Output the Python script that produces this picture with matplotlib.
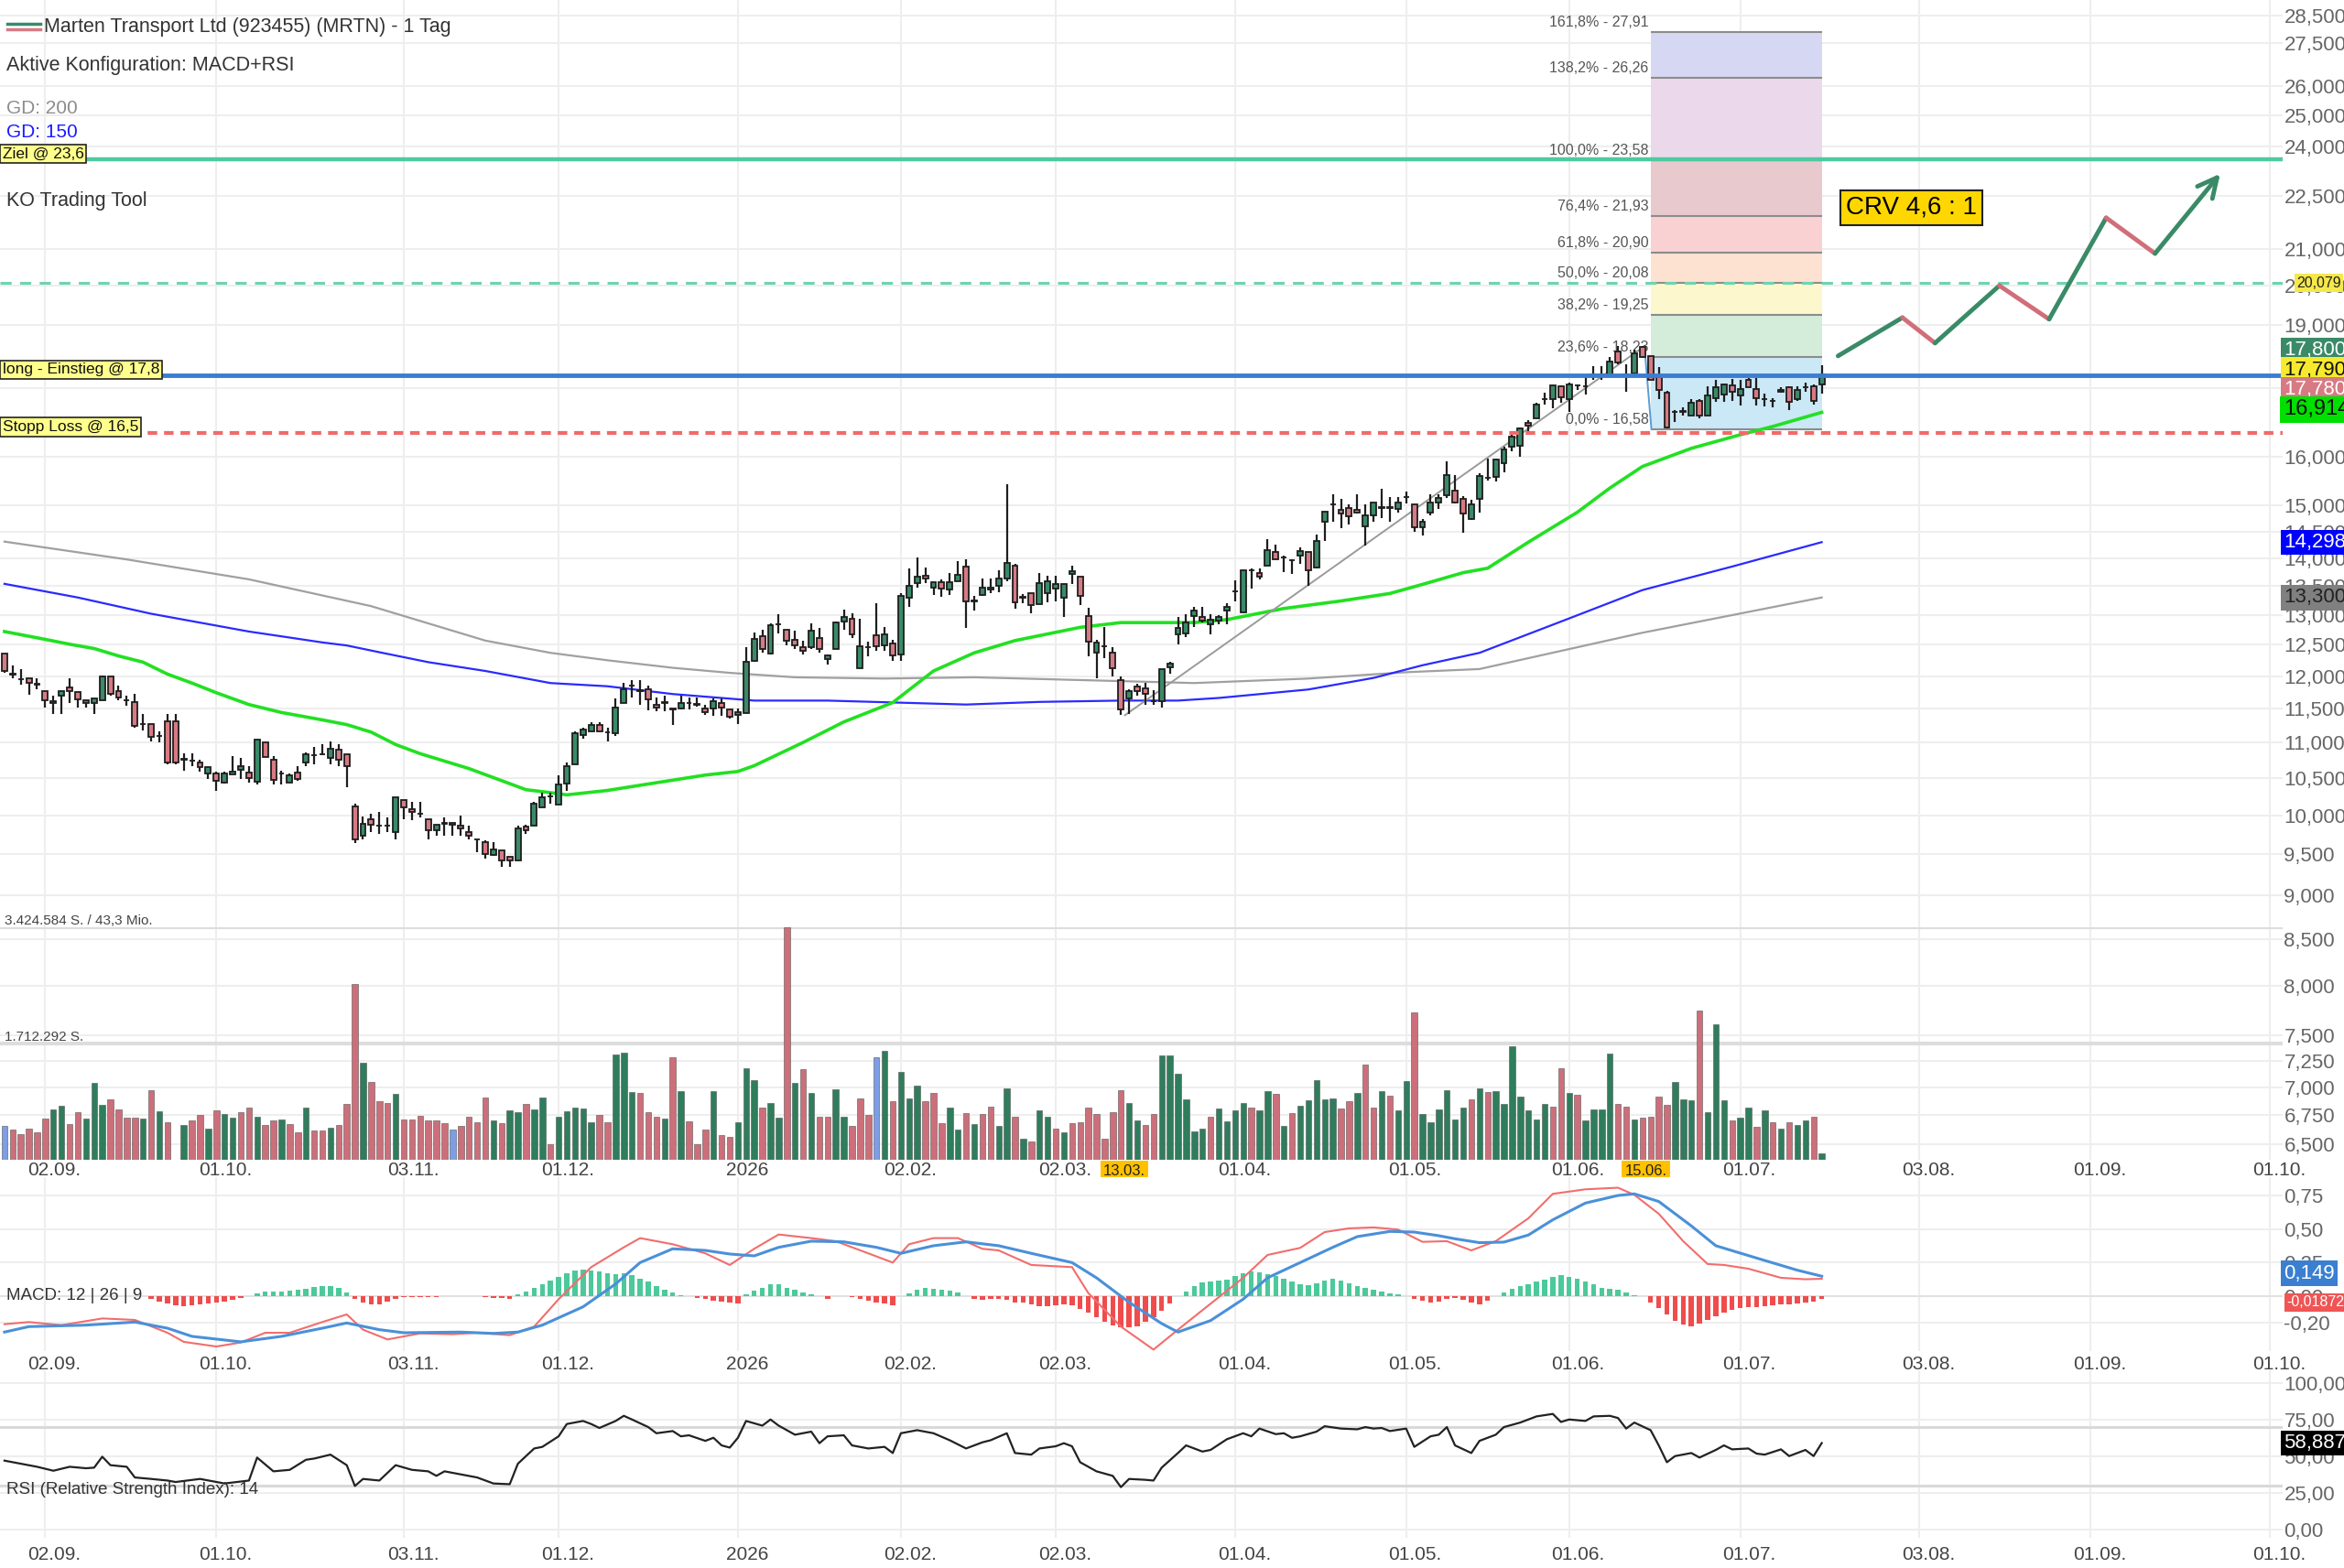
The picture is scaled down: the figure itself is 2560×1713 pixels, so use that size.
import matplotlib
matplotlib.use("Agg")
import matplotlib.pyplot as plt
import numpy as np
from matplotlib.lines import Line2D
from matplotlib.ticker import FixedLocator, FuncFormatter, NullLocator

plt.rcParams['font.family'] = ['Liberation Sans', 'DejaVu Sans']

W, H = 2560, 1713

#%% price data (one candle per trading day, index 0 = 25.08.2025)
opens = [12.36, 12.04, 11.95, 11.96, 11.87, 11.77, 11.58, 11.70, 11.82, 11.75,
         11.58, 11.59, 11.62, 11.99, 11.77, 11.62, 11.60, 11.27, 11.27, 11.09,
         11.31, 11.31, 10.76, 10.74, 10.72, 10.56, 10.56, 10.43, 10.55, 10.61,
         10.57, 10.45, 11.00, 10.76, 10.56, 10.43, 10.57, 10.72, 10.82, 10.83,
         10.78, 10.89, 10.83, 10.12, 9.74, 9.95, 9.86, 9.86, 9.78, 10.20,
         10.08, 10.02, 9.95, 9.80, 9.89, 9.90, 9.87, 9.78, 9.69, 9.65,
         9.49, 9.55, 9.47, 9.42, 9.85, 9.86, 10.10, 10.25, 10.14, 10.42,
         10.69, 11.11, 11.16, 11.25, 11.15, 11.13, 11.59, 11.85, 11.77, 11.79,
         11.56, 11.59, 11.49, 11.50, 11.58, 11.56, 11.50, 11.50, 11.58, 11.48,
         11.41, 11.43, 12.24, 12.65, 12.36, 12.84, 12.75, 12.58, 12.46, 12.46,
         12.62, 12.27, 12.43, 12.89, 12.94, 12.13, 12.46, 12.66, 12.49, 12.52,
         12.34, 13.29, 13.56, 13.68, 13.48, 13.57, 13.44, 13.58, 13.85, 13.24,
         13.35, 13.44, 13.50, 13.63, 13.87, 13.30, 13.38, 13.19, 13.38, 13.46,
         13.29, 13.71, 13.66, 12.98, 12.38, 12.47, 12.38, 11.94, 11.65, 11.83,
         11.81, 11.61, 11.61, 12.14, 12.67, 12.69, 12.98, 12.96, 12.84, 12.90,
         13.08, 13.41, 13.05, 13.78, 13.73, 13.87, 14.11, 14.02, 13.96, 14.05,
         14.11, 13.84, 14.69, 15.03, 14.92, 14.96, 14.92, 14.60, 14.81, 14.96,
         14.96, 14.93, 15.17, 15.02, 14.58, 14.87, 15.07, 15.20, 15.30, 15.14,
         14.74, 15.14, 15.55, 15.58, 15.86, 16.20, 16.22, 16.71, 16.82, 17.25,
         17.25, 17.53, 17.24, 17.55, 17.53, 17.80, 17.80, 17.80, 18.35, 17.80,
         17.84, 18.46, 18.25, 17.76, 17.40, 16.96, 16.97, 16.87, 17.20, 16.87,
         17.27, 17.36, 17.55, 17.34, 17.69, 17.48, 17.25, 17.20, 17.41, 17.51,
         17.25, 17.51, 17.53, 17.58]
highs = [12.36, 12.17, 12.11, 11.96, 11.96, 11.77, 11.69, 11.77, 11.96, 11.75,
         11.63, 11.65, 12.01, 11.99, 11.85, 11.70, 11.72, 11.42, 11.27, 11.16,
         11.42, 11.42, 10.84, 10.84, 10.76, 10.65, 10.59, 10.59, 10.81, 10.78,
         10.66, 11.04, 11.00, 10.81, 10.60, 10.56, 10.66, 10.86, 10.93, 10.97,
         11.01, 10.97, 10.83, 10.15, 9.98, 10.02, 10.04, 9.97, 10.24, 10.20,
         10.18, 10.18, 9.95, 9.88, 9.97, 9.90, 10.00, 9.87, 9.69, 9.68,
         9.65, 9.55, 9.47, 9.86, 9.88, 10.18, 10.30, 10.30, 10.54, 10.72,
         11.16, 11.22, 11.29, 11.29, 11.22, 11.65, 11.89, 11.94, 11.93, 11.85,
         11.67, 11.70, 11.49, 11.69, 11.67, 11.67, 11.55, 11.66, 11.66, 11.48,
         11.50, 12.46, 12.70, 12.75, 12.86, 13.01, 12.75, 12.73, 12.57, 12.86,
         12.78, 12.35, 12.89, 13.09, 13.03, 12.94, 12.55, 13.20, 12.79, 12.58,
         13.38, 13.81, 14.01, 13.84, 13.57, 13.62, 13.73, 13.95, 13.98, 13.32,
         13.63, 13.63, 13.78, 15.43, 13.90, 13.36, 13.38, 13.74, 13.68, 13.68,
         13.54, 13.87, 13.66, 13.12, 12.58, 12.79, 12.46, 12.00, 11.80, 11.88,
         11.90, 11.78, 12.11, 12.23, 12.97, 13.01, 13.13, 13.13, 13.01, 13.00,
         13.20, 13.61, 13.79, 13.82, 13.82, 14.36, 14.25, 14.05, 13.99, 14.20,
         14.11, 14.45, 14.88, 15.22, 15.13, 15.03, 15.22, 15.03, 15.06, 15.34,
         15.17, 15.17, 15.28, 15.02, 14.74, 15.23, 15.22, 15.89, 15.62, 15.18,
         15.11, 15.65, 15.95, 15.95, 16.20, 16.46, 16.62, 16.78, 17.17, 17.40,
         17.57, 17.57, 17.62, 17.58, 17.74, 18.00, 18.00, 18.23, 18.49, 18.06,
         18.39, 18.49, 18.25, 17.98, 17.44, 17.00, 17.07, 17.24, 17.25, 17.53,
         17.68, 17.60, 17.71, 17.69, 17.73, 17.73, 17.38, 17.27, 17.51, 17.53,
         17.53, 17.62, 17.58, 18.03]
lows = [12.05, 11.97, 11.87, 11.71, 11.80, 11.51, 11.42, 11.42, 11.59, 11.52,
        11.52, 11.42, 11.62, 11.70, 11.62, 11.54, 11.21, 11.18, 11.02, 11.00,
        10.69, 10.69, 10.60, 10.67, 10.59, 10.48, 10.33, 10.42, 10.55, 10.48,
        10.44, 10.41, 10.79, 10.41, 10.41, 10.43, 10.46, 10.66, 10.69, 10.82,
        10.69, 10.67, 10.37, 9.64, 9.69, 9.78, 9.76, 9.78, 9.69, 9.95,
        9.93, 9.97, 9.69, 9.73, 9.73, 9.73, 9.73, 9.69, 9.53, 9.45,
        9.48, 9.35, 9.35, 9.42, 9.76, 9.86, 10.10, 10.15, 10.14, 10.33,
        10.69, 11.06, 11.16, 11.16, 11.01, 11.10, 11.58, 11.67, 11.56, 11.47,
        11.46, 11.46, 11.25, 11.49, 11.49, 11.53, 11.41, 11.39, 11.39, 11.35,
        11.27, 11.43, 12.22, 12.37, 12.34, 12.69, 12.49, 12.43, 12.34, 12.43,
        12.37, 12.18, 12.43, 12.75, 12.62, 12.13, 12.31, 12.40, 12.40, 12.24,
        12.24, 13.14, 13.48, 13.55, 13.34, 13.31, 13.35, 13.58, 12.78, 13.07,
        13.32, 13.37, 13.39, 13.58, 13.11, 13.20, 13.03, 13.19, 13.22, 13.23,
        12.97, 13.54, 13.17, 12.32, 11.96, 12.28, 11.99, 11.40, 11.42, 11.70,
        11.56, 11.55, 11.51, 12.03, 12.51, 12.63, 12.80, 12.87, 12.68, 12.84,
        12.84, 13.23, 13.05, 13.45, 13.62, 13.87, 13.98, 13.75, 13.71, 13.90,
        13.51, 13.81, 14.32, 14.69, 14.57, 14.64, 14.84, 14.23, 14.68, 14.75,
        14.68, 14.87, 15.05, 14.50, 14.42, 14.81, 14.93, 15.16, 15.04, 14.48,
        14.72, 14.87, 15.50, 15.48, 15.67, 16.11, 15.99, 16.46, 16.82, 17.13,
        17.05, 17.17, 16.96, 17.45, 17.35, 17.69, 17.69, 17.74, 18.06, 17.42,
        17.82, 18.20, 17.69, 17.25, 16.59, 16.73, 16.87, 16.87, 16.82, 16.87,
        17.18, 17.18, 17.20, 17.11, 17.52, 17.11, 17.09, 17.07, 17.39, 17.00,
        17.20, 17.41, 17.13, 17.38]
closes = [12.08, 12.02, 11.95, 11.89, 11.87, 11.63, 11.61, 11.77, 11.77, 11.64,
          11.63, 11.65, 11.99, 11.73, 11.67, 11.62, 11.24, 11.27, 11.08, 11.09,
          10.72, 10.72, 10.76, 10.74, 10.65, 10.65, 10.46, 10.56, 10.59, 10.67,
          10.50, 11.04, 10.79, 10.47, 10.56, 10.54, 10.48, 10.83, 10.82, 10.83,
          10.91, 10.75, 10.67, 9.69, 9.89, 9.88, 9.86, 9.86, 10.24, 10.10,
          10.04, 10.02, 9.80, 9.88, 9.89, 9.88, 9.83, 9.73, 9.69, 9.50,
          9.56, 9.42, 9.42, 9.83, 9.80, 10.15, 10.24, 10.25, 10.41, 10.67,
          11.13, 11.19, 11.25, 11.16, 11.15, 11.52, 11.79, 11.85, 11.77, 11.64,
          11.52, 11.59, 11.49, 11.58, 11.58, 11.56, 11.44, 11.61, 11.51, 11.38,
          11.44, 12.22, 12.60, 12.43, 12.82, 12.84, 12.57, 12.49, 12.41, 12.73,
          12.43, 12.33, 12.88, 12.96, 12.68, 12.47, 12.46, 12.48, 12.68, 12.33,
          13.32, 13.51, 13.67, 13.64, 13.57, 13.45, 13.57, 13.70, 13.24, 13.24,
          13.48, 13.48, 13.63, 13.91, 13.22, 13.30, 13.17, 13.55, 13.59, 13.54,
          13.54, 13.76, 13.32, 12.55, 12.53, 12.47, 12.12, 11.48, 11.76, 11.76,
          11.72, 11.61, 12.11, 12.20, 12.78, 12.87, 13.08, 12.90, 12.92, 12.96,
          13.14, 13.41, 13.79, 13.78, 13.66, 14.15, 13.98, 14.02, 13.96, 14.13,
          13.78, 14.32, 14.88, 15.03, 14.84, 14.80, 14.86, 14.81, 15.06, 14.96,
          14.96, 15.07, 15.17, 14.58, 14.69, 15.07, 15.16, 15.62, 15.07, 14.84,
          15.02, 15.60, 15.55, 15.93, 16.14, 16.42, 16.60, 16.65, 17.13, 17.25,
          17.55, 17.29, 17.58, 17.55, 17.53, 17.80, 17.80, 18.12, 18.10, 17.80,
          18.31, 18.22, 17.69, 17.45, 16.61, 16.96, 16.97, 17.17, 16.87, 17.34,
          17.51, 17.58, 17.41, 17.48, 17.52, 17.27, 17.25, 17.20, 17.46, 17.18,
          17.46, 17.51, 17.20, 17.81]

# volume in thousand shares, bar colours (g = up, r = down, b = neutral)
volumes = [503, 442, 384, 459, 404, 610, 743, 801, 531, 699,
           610, 1127, 812, 894, 743, 623, 623, 610, 1027, 712,
           551, 0, 517, 586, 654, 452, 729, 675, 623, 699,
           767, 630, 517, 586, 596, 531, 404, 774, 428, 428,
           473, 517, 818, 2592, 1431, 1151, 866, 832, 969, 596,
           596, 647, 586, 586, 541, 442, 503, 630, 551, 911,
           586, 541, 723, 699, 818, 743, 911, 226, 630, 712,
           767, 757, 551, 654, 551, 1555, 1579, 1000, 983, 699,
           630, 610, 1510, 1014, 562, 233, 442, 1014, 370, 339,
           551, 1342, 1171, 774, 832, 623, 3424.6, 1137, 1329, 990,
           640, 640, 1044, 630, 503, 901, 654, 1510, 1599, 866,
           1298, 901, 1096, 866, 983, 541, 774, 442, 685, 531,
           668, 788, 503, 1058, 630, 305, 271, 729, 630, 452,
           404, 541, 551, 774, 668, 315, 699, 1027, 832, 586,
           517, 668, 1531, 1531, 1271, 894, 414, 459, 640, 757,
           562, 729, 832, 767, 729, 1014, 969, 503, 685, 801,
           880, 1171, 894, 901, 757, 866, 983, 1408, 767, 1014,
           945, 723, 1158, 2171, 668, 551, 743, 1027, 596, 767,
           894, 1058, 1000, 1014, 818, 1675, 925, 729, 596, 818,
           788, 1342, 983, 955, 575, 743, 743, 1568, 818, 788,
           596, 623, 640, 925, 812, 1151, 894, 880, 2199, 699,
           1993, 880, 575, 623, 774, 486, 723, 551, 459, 551,
           517, 575, 640, 89]
vol_colors = ("brrrrrggrr" "gggrrrrgrg" "rrgrrgrggr" "rgrrgrrgrr" "grrrgrrrgr"
              "rrrrrbrrrr" "grggrggrgg" "gggrrgggrr" "rgrgrrrgrr" "gggrggrgrg"
              "rrggrrrbgr" "gggrrrggrg" "rrggrgrggr" "grrrrrrrgg" "rrggggggrg"
              "gggrggrgrg" "ggggrrgrrg" "rggrgggggg" "rgrggggggg" "rrgrggggrr"
              "grrrrgggrg" "ggrggrgrgr" "ggrg")
vol_max = 3424.584
vol_half = 1712.292

# moving averages (GD 50 / 150 / 200), read as vertices
gd50_x = [0, 5, 8, 11, 14, 17, 20, 23, 26, 30, 34, 39, 42, 45, 48, 51, 57, 64, 67, 69,
          74, 78, 86, 90, 92, 98, 103, 109, 114, 119, 124, 132, 137, 142, 146, 150, 157,
          164, 170, 174, 179, 182, 187, 193, 197, 201, 207, 213, 217, 223]
gd50_y = [12.72, 12.59, 12.51, 12.44, 12.32, 12.22, 12.03, 11.89, 11.74, 11.56, 11.44,
          11.33, 11.26, 11.15, 10.97, 10.84, 10.63, 10.34, 10.30, 10.27, 10.33, 10.40,
          10.54, 10.59, 10.67, 11.00, 11.30, 11.59, 12.08, 12.37, 12.57, 12.79, 12.87,
          12.87, 12.87, 12.92, 13.11, 13.24, 13.37, 13.53, 13.74, 13.82, 14.30, 14.87,
          15.35, 15.79, 16.17, 16.46, 16.64, 16.95]
gd150_x = [0, 9, 18, 30, 34, 39, 42, 46, 52, 59, 67, 74, 82, 92, 101, 118, 127, 137,
           144, 149, 160, 168, 174, 181, 192, 201, 212, 223]
gd150_y = [13.54, 13.30, 13.02, 12.72, 12.64, 12.54, 12.49, 12.38, 12.22, 12.08, 11.89,
           11.84, 11.72, 11.62, 11.62, 11.56, 11.60, 11.62, 11.62, 11.66, 11.79, 11.97,
           12.17, 12.37, 12.94, 13.43, 13.85, 14.30]
gd200_x = [0, 15, 30, 45, 59, 67, 74, 82, 89, 97, 108, 119, 134, 146, 160, 172, 181,
           201, 223]
gd200_y = [14.31, 13.98, 13.62, 13.15, 12.57, 12.37, 12.25, 12.13, 12.05, 11.98, 11.96,
           11.98, 11.93, 11.89, 11.96, 12.06, 12.11, 12.70, 13.30]

# MACD (12/26/9)
macd_x = [0, 3, 7, 12, 16, 20, 22, 26, 29, 32, 35, 39, 42, 44, 47, 51, 55, 58, 62, 65,
          68, 72, 76, 78, 82, 86, 89, 92, 95, 99, 102, 106, 109, 111, 114, 117, 120, 122,
          126, 131, 133, 137, 141, 144, 148, 152, 155, 159, 162, 165, 168, 171, 174, 177,
          180, 183, 187, 190, 194, 198, 200, 203, 206, 209, 211, 214, 218, 221, 223]
macd_y = [-0.210, -0.194, -0.217, -0.167, -0.178, -0.274, -0.342, -0.377, -0.347, -0.274,
          -0.274, -0.194, -0.137, -0.251, -0.324, -0.279, -0.285, -0.274, -0.292, -0.228,
          -0.023, 0.217, 0.365, 0.434, 0.388, 0.320, 0.233, 0.354, 0.461, 0.434,
          0.411, 0.320, 0.251, 0.388, 0.434, 0.434, 0.354, 0.342, 0.233, 0.217,
          0.023, -0.228, -0.400, -0.251, -0.057, 0.137, 0.308, 0.361, 0.479, 0.507,
          0.514, 0.498, 0.406, 0.411, 0.342, 0.411, 0.582, 0.765, 0.799, 0.811,
          0.758, 0.616, 0.411, 0.240, 0.233, 0.205, 0.137, 0.126, 0.130]
signal_x = [0, 3, 10, 16, 20, 23, 29, 34, 39, 42, 46, 49, 56, 60, 63, 66, 71, 75, 78, 82,
            86, 89, 92, 95, 99, 103, 107, 110, 114, 118, 122, 126, 131, 134, 138, 142,
            144, 148, 152, 155, 159, 163, 166, 170, 173, 176, 178, 181, 184, 187, 190,
            194, 198, 200, 203, 207, 210, 215, 220, 223]
signal_y = [-0.269, -0.228, -0.217, -0.194, -0.240, -0.301, -0.342, -0.301, -0.240, -0.201,
            -0.251, -0.274, -0.269, -0.279, -0.269, -0.217, -0.080, 0.091, 0.251, 0.354,
            0.342, 0.315, 0.301, 0.365, 0.411, 0.406, 0.365, 0.320, 0.377, 0.406,
            0.377, 0.320, 0.251, 0.137, -0.046, -0.205, -0.269, -0.183, -0.023, 0.137,
            0.251, 0.365, 0.445, 0.484, 0.479, 0.452, 0.429, 0.400, 0.404, 0.457,
            0.571, 0.696, 0.753, 0.765, 0.708, 0.525, 0.377, 0.285, 0.194, 0.149]
macd_hist = ([0] * 18 +
             [-0.023, -0.041, -0.057, -0.068, -0.073, -0.068, -0.062, -0.055, -0.048, -0.041,
              -0.027, -0.014, 0,
              0.023, 0.034, 0.034, 0.034, 0.039, 0.050, 0.057, 0.068, 0.075, 0.075, 0.064,
              0.027,
              -0.023, -0.046, -0.059, -0.064, -0.041, -0.018,
              -0.007, -0.007, -0.007, -0.007, -0.007, 0, 0, 0, 0, 0,
              -0.007, -0.011, -0.016, -0.020,
              0.011, 0.032, 0.064, 0.091, 0.114, 0.142, 0.171, 0.190, 0.201, 0.194, 0.183,
              0.171, 0.167, 0.171, 0.155, 0.132, 0.107, 0.075, 0.050, 0.030, 0.009, 0,
              -0.011, -0.023, -0.034, -0.039, -0.046, -0.057,
              0.011, 0.039, 0.064, 0.087, 0.091, 0.064, 0.046, 0.030, 0.014, 0,
              -0.023, 0, 0,
              -0.007, -0.023, -0.037, -0.046, -0.053, -0.068, 0,
              0.023, 0.050, 0.064, 0.057, 0.046, 0.039, 0.027, 0,
              -0.023, -0.025, -0.023, -0.018, -0.027, -0.046, -0.050, -0.064, -0.078, -0.075,
              -0.068, -0.059, -0.068, -0.096, -0.126, -0.160, -0.189, -0.217, -0.233, -0.233,
              -0.224, -0.194, -0.155, -0.110, -0.057, 0,
              0.034, 0.078, 0.105, 0.112, 0.116, 0.126, 0.153, 0.174, 0.183, 0.176, 0.162,
              0.151, 0.130, 0.110, 0.087, 0.080, 0.098, 0.119, 0.128, 0.119, 0.098, 0.078,
              0.062, 0.046, 0.034, 0.023, 0.011, 0,
              -0.023, -0.037, -0.046, -0.039, -0.023, -0.016, -0.030, -0.046, -0.059, -0.032, 0,
              0.027, 0.057, 0.078, 0.091, 0.110, 0.126, 0.142, 0.160, 0.144, 0.128, 0.107,
              0.087, 0.064, 0.055, 0.050, 0.027, 0.007, 0,
              -0.046, -0.091, -0.137, -0.187, -0.215, -0.224, -0.205, -0.178, -0.148, -0.121,
              -0.100, -0.089, -0.080, -0.080, -0.078, -0.071, -0.064, -0.059, -0.055, -0.050,
              -0.041, -0.023])

# RSI (14)
rsi_x = [0, 2, 4, 6, 8, 10, 11, 12, 13, 15, 16, 18, 20, 21, 24, 27, 30, 31, 33, 35,
         37, 38, 40, 42, 43, 44, 46, 48, 50, 52, 53, 54, 56, 58, 60, 62, 63, 65, 66, 68,
         69, 71, 72, 73, 75, 76, 77, 79, 80, 82, 83, 84, 86, 87, 88, 89, 90, 91, 93, 94,
         95, 97, 99, 100, 101, 103, 104, 106, 108, 109, 110, 112, 114, 116, 118, 120, 121,
         123, 124, 126, 127, 129, 130, 131, 132, 134, 136, 137, 138, 140, 141, 142, 144,
         145, 147, 148, 150, 152, 153, 154, 156, 157, 158, 159, 161, 162, 164, 166, 167,
         168, 169, 170, 172, 173, 175, 176, 177, 178, 180, 181, 183, 184, 186, 187, 188,
         190, 191, 192, 194, 195, 197, 198, 199, 200, 202, 203, 204, 205, 207, 208, 210,
         211, 212, 214, 215, 216, 218, 219, 221, 222, 223]
rsi_y = [46.9, 44.8, 42.7, 40.0, 42.7, 41.7, 42.1, 49.6, 43.8, 42.7, 35.4, 34.4, 33.3,
         32.3, 34.4, 31.3, 33.3, 49.0, 39.6, 40.6, 47.5, 48.3, 51.0, 43.8, 29.6, 34.4,
         33.3, 43.8, 40.6, 39.6, 36.5, 39.6, 37.5, 35.4, 31.3, 30.8, 44.8, 55.2, 56.3,
         63.5, 71.9, 74.0, 71.9, 69.2, 74.0, 77.5, 75.0, 69.8, 65.6, 67.1, 63.5, 64.2,
         60.4, 62.5, 57.3, 55.8, 62.5, 74.0, 70.8, 75.0, 70.8, 64.6, 66.7, 58.8, 63.5,
         64.2, 57.3, 55.2, 56.3, 52.1, 65.6, 67.7, 65.6, 60.8, 55.2, 59.4, 60.8, 65.6,
         52.1, 51.0, 55.2, 56.7, 58.8, 56.7, 45.8, 39.6, 36.5, 28.8, 34.4, 33.8, 33.3,
         42.1, 52.1, 57.3, 53.1, 54.2, 61.5, 65.6, 63.5, 68.8, 65.0, 65.6, 62.5, 63.5,
         66.7, 70.4, 68.8, 68.3, 69.8, 68.8, 69.2, 67.1, 68.8, 56.3, 63.5, 64.6, 69.8,
         57.3, 52.1, 60.4, 64.6, 69.8, 72.9, 75.0, 77.1, 78.8, 73.3, 75.0, 74.0, 77.1,
         77.5, 76.0, 68.8, 72.9, 67.7, 57.3, 45.8, 50.0, 52.1, 49.0, 54.2, 57.3, 54.6,
         55.2, 51.7, 51.0, 54.6, 50.0, 54.2, 50.0, 58.9]

# axis labels
grid_idx = [5, 26, 49, 68, 90, 110, 129, 151, 172, 192, 213, 235, 256, 278]
date_labels = ['02.09.', '01.10.', '03.11.', '01.12.', '2026', '02.02.', '02.03.',
               '01.04.', '01.05.', '01.06.', '01.07.', '03.08.', '01.09.', '01.10.']
event_idx = [138, 202]
event_labels = ['13.03.', '15.06.']
price_ticks = [28.5, 27.5, 26, 25, 24, 22.5, 21, 20, 19, 17.5, 16, 15, 14.5, 14, 13.5,
               13, 12.5, 12, 11.5, 11, 10.5, 10, 9.5, 9, 8.5, 8, 7.5, 7.25, 7, 6.75, 6.5]
macd_ticks = [0.75, 0.5, 0.25, 0.0, -0.2]
rsi_ticks = [100, 75, 50, 25, 0]

# trading tool levels
target = 23.6
entry = 17.79
stop = 16.5
mid_level = 20.079
fib_pct = ['0,0%', '23,6%', '38,2%', '50,0%', '61,8%', '76,4%', '100,0%', '138,2%', '161,8%']
fib_vals = [16.58, 18.23, 19.25, 20.08, 20.90, 21.93, 23.58, 26.26, 27.91]
fib_colors = ['#cbe8f6', '#d4ecda', '#fcf7cc', '#fde2d2', '#f9d1d2', '#e8c9cd',
              '#ebd9eb', '#d6d8f3']
fib_start, fib_end = 202, 223
trend_x = [137.5, 201]
trend_y = [11.40, 18.45]
swing_x = [201.3, 202.1]
swing_y = [18.35, 16.58]
proj_x = [225.0, 232.9, 236.9, 244.8, 250.9, 257.9, 263.9, 271.9]
proj_y = [18.25, 19.19, 18.56, 20.01, 19.15, 21.87, 20.87, 23.17]

GREEN = '#3a8a68'
RED = '#d77a84'
X_MIN, X_MAX = -0.55, 279.56

#%% figure and panes (pixel layout of the reference)
fig = plt.figure(figsize=(W / 100, H / 100), dpi=100)


def add_pane(top, bottom, right=2493):
    return fig.add_axes([0, 1 - bottom / H, right / W, (bottom - top) / H])


def de_fmt(dec):
    return FuncFormatter(lambda v, p: f"{v:.{dec}f}".replace('.', ','))


def style(a, ticks, dec):
    for s in a.spines.values():
        s.set_visible(False)
    a.set_xlim(X_MIN, X_MAX)
    a.set_xticks(grid_idx)
    a.tick_params(axis='x', length=0, labelbottom=False)
    a.yaxis.tick_right()
    a.yaxis.set_major_locator(FixedLocator(ticks))
    a.yaxis.set_minor_locator(NullLocator())
    a.yaxis.set_major_formatter(de_fmt(dec))
    a.tick_params(axis='y', length=0, pad=1, labelsize=16, labelcolor='#666666')
    a.grid(True, color='#eeeeee', lw=1.5)
    a.set_axisbelow(True)


def date_row(a, dy, events=False):
    for i, lab in zip(grid_idx, date_labels):
        a.annotate(lab, xy=(i, 0), xycoords=('data', 'axes fraction'), xytext=(10, dy),
                   textcoords='offset pixels', ha='center', va='center', fontsize=15,
                   color='#444444', annotation_clip=False)
    if events:
        for i, lab in zip(event_idx, event_labels):
            a.annotate(lab, xy=(i, 0), xycoords=('data', 'axes fraction'), xytext=(-5, dy),
                       textcoords='offset pixels', ha='center', va='center', fontsize=12,
                       color='#222222', annotation_clip=False, zorder=20,
                       bbox=dict(boxstyle='square,pad=0.2', fc='#ffc000', ec='none'))


def tag(a, y, text, fc, tc, dy=0, dx=1, size=16):
    a.annotate(text, xy=(1, y), xycoords=('axes fraction', 'data'), xytext=(dx, dy),
               textcoords='offset pixels', ha='left', va='center', fontsize=size, color=tc,
               bbox=dict(boxstyle='square,pad=0.15', fc=fc, ec='none'),
               annotation_clip=False, zorder=30)


ax = add_pane(0, 1267)
ax.set_yscale('log')
ax.set_ylim(6.368, 29.09)
style(ax, price_ticks, 3)
date_row(ax, -12, events=True)

ax_v = add_pane(1013, 1267)
ax_v.set_xlim(X_MIN, X_MAX)
ax_v.set_ylim(0, vol_max)
ax_v.patch.set_alpha(0)
ax_v.axis('off')

ax_m = add_pane(1286, 1476)
ax_m.set_ylim(-0.411, 0.890)
style(ax_m, macd_ticks, 2)
date_row(ax_m, -15)

ax_r = add_pane(1497, 1680)
ax_r.set_ylim(-5.8, 108.6)
style(ax_r, rsi_ticks, 2)
date_row(ax_r, -18)

#%% price pane
x = np.arange(len(closes))
o, h, l, c = map(np.array, (opens, highs, lows, closes))
body_col = np.where(c >= o, GREEN, RED)
ax.plot(gd200_x, gd200_y, color='#a0a0a0', lw=1.6, zorder=2)
ax.plot(gd150_x, gd150_y, color='#2a2aff', lw=1.6, zorder=2)
ax.plot(gd50_x, gd50_y, color='#22e022', lw=2.6, zorder=2)

for k in range(len(fib_vals) - 1):
    ax.fill_between([fib_start, fib_end], fib_vals[k], fib_vals[k + 1],
                    color=fib_colors[k], lw=0, zorder=1)
ax.hlines(fib_vals, fib_start, fib_end, color='#8c8c8c', lw=1.5, zorder=1.5)
for pct, val in zip(fib_pct, fib_vals):
    ax.annotate(f"{pct} - {val:.2f}".replace('.', ','), xy=(fib_start, val),
                xytext=(-2, 3), textcoords='offset pixels', ha='right', va='bottom',
                fontsize=11.5, color='#555555', zorder=2)

ax.plot(trend_x, trend_y, color='#9a9a9a', lw=1.4, zorder=2.5)
ax.plot(swing_x, swing_y, color='#5b9bd5', lw=1.4, zorder=2.5)

ax.vlines(x, l, h, color='#1e1e1e', lw=1.6, zorder=3)
ax.bar(x, np.maximum(np.abs(c - o), 0.004), bottom=np.minimum(o, c), width=0.66,
       color=body_col, edgecolor='#1e1e1e', linewidth=1.3, zorder=4)

ax.axhline(target, color='#4fc9a0', lw=3.2, zorder=5)
ax.axhline(mid_level, color='#6dd4b0', lw=2.2, ls=(0, (4, 3)), zorder=5)
ax.axhline(entry, color='#3b7dd0', lw=3.5, zorder=5)
ax.axhline(stop, color='#f26a6a', lw=3.0, ls=(0, (2.5, 1.8)), zorder=5)

for k in range(len(proj_x) - 2):
    col = GREEN if proj_y[k + 1] > proj_y[k] else '#d06e79'
    ax.plot(proj_x[k:k + 2], proj_y[k:k + 2], color=col, lw=3.5,
            solid_capstyle='round', zorder=6)
ax.annotate('', xy=(proj_x[-1], proj_y[-1]), xytext=(proj_x[-2], proj_y[-2]),
            arrowprops=dict(arrowstyle='->', color=GREEN, lw=3.5, mutation_scale=38,
                            shrinkA=0, shrinkB=0), zorder=6)
ax.text(234, 22.16, 'CRV 4,6 : 1', ha='center', va='center', fontsize=20, zorder=7,
        bbox=dict(boxstyle='square,pad=0.22', fc='#ffd700', ec='#222222', lw=1.5))

# left boxes and header texts
ax.text(0.003, 0.8655, 'GD: 50', transform=ax.transAxes, fontsize=15, color='#22cc22',
        va='center', zorder=6)
for val, text in [(target, 'Ziel @ 23,6'), (entry, 'long - Einstieg @ 17,8'),
                  (stop, 'Stopp Loss @ 16,5')]:
    ax.annotate(text, xy=(0, val), xycoords=('axes fraction', 'data'), xytext=(3, -1),
                textcoords='offset pixels', ha='left', va='bottom', fontsize=12.5,
                color='#111111', zorder=15,
                bbox=dict(boxstyle='square,pad=0.15', fc='#ffff8c', ec='#222222', lw=1.2))

fig.add_artist(Line2D([8 / W, 44 / W], [1 - 26 / H, 1 - 26 / H], color=GREEN, lw=2.5))
fig.add_artist(Line2D([8 / W, 44 / W], [1 - 32 / H, 1 - 32 / H], color=RED, lw=2.5))
fig.text(48 / W, 1 - 29 / H, 'Marten Transport Ltd (923455) (MRTN) - 1 Tag', fontsize=15.5,
         color='#333333', va='center')
fig.text(7 / W, 1 - 72 / H, 'Aktive Konfiguration: MACD+RSI', fontsize=15.5,
         color='#333333', va='center')
fig.text(7 / W, 1 - 119 / H, 'GD: 200', fontsize=15, color='#8c8c8c', va='center')
fig.text(7 / W, 1 - 144 / H, 'GD: 150', fontsize=15, color='#1a1aff', va='center')
fig.text(7 / W, 1 - 219 / H, 'KO Trading Tool', fontsize=15.5, color='#333333', va='center')

tag(ax, mid_level, '20,079', '#f5e84a', '#222222', dx=15, size=11.5)
tag(ax, 17.80, '17,800', GREEN, 'white', dy=27)
tag(ax, 17.79, '17,790', '#f6ea2e', '#111111', dy=6)
tag(ax, 17.78, '17,780', RED, 'white', dy=-15)
tag(ax, 16.914, '16,914', '#00e000', '#111111', dy=5, size=17)
tag(ax, 14.298, '14,298', '#0000ff', 'white')
tag(ax, 13.30, '13,300', '#808080', '#222222')

#%% volume pane
vcol = {'g': '#2f7d5c', 'r': '#cc6f7a', 'b': '#7d9de6'}
ax_v.bar(x, volumes, width=0.72, color=[vcol[k] for k in vol_colors],
         edgecolor='#555555', linewidth=0.4, zorder=3)
ax_v.axhline(vol_max, color='#dddddd', lw=3, zorder=1)
ax_v.axhline(vol_half, color='#dddddd', lw=3, zorder=1)
ax_v.text(0.002, vol_max, '3.424.584 S. / 43,3 Mio.', transform=ax_v.get_yaxis_transform(),
          fontsize=11, color='#444444', va='bottom')
ax_v.text(0.002, vol_half, '1.712.292 S.', transform=ax_v.get_yaxis_transform(),
          fontsize=11, color='#444444', va='bottom')

#%% MACD pane
hist = np.array(macd_hist)
ax_m.axhline(0, color='#e2e2e2', lw=1.5, zorder=1)
ax_m.bar(x, hist, width=0.62, color=np.where(hist >= 0, '#4cc99a', '#f04c4c'), zorder=2)
ax_m.plot(macd_x, macd_y, color='#f26d6d', lw=1.5, zorder=3)
ax_m.plot(signal_x, signal_y, color='#4a90d9', lw=2.2, zorder=3)
ax_m.text(0.003, 0, 'MACD: 12 | 26 | 9', transform=ax_m.get_yaxis_transform(),
          fontsize=13.5, color='#333333', va='center')
tag(ax_m, 0.149, '0,149', '#3a7fd0', 'white', dy=3)
tag(ax_m, -0.01872, '-0,01872', '#f05555', 'white', dx=4, dy=-4, size=11.5)

#%% RSI pane
ax_r.axhline(70, color='#d9d9d9', lw=2.2, zorder=1)
ax_r.axhline(30, color='#d9d9d9', lw=2.2, zorder=1)
ax_r.plot(rsi_x, rsi_y, color='#222222', lw=1.6, zorder=3)
ax_r.text(0.003, 27, 'RSI (Relative Strength Index): 14', transform=ax_r.get_yaxis_transform(),
          fontsize=13.5, color='#333333', va='center')
tag(ax_r, 58.887, '58,887', '#000000', 'white')

fig.savefig('out.png', dpi=100, facecolor='white')
